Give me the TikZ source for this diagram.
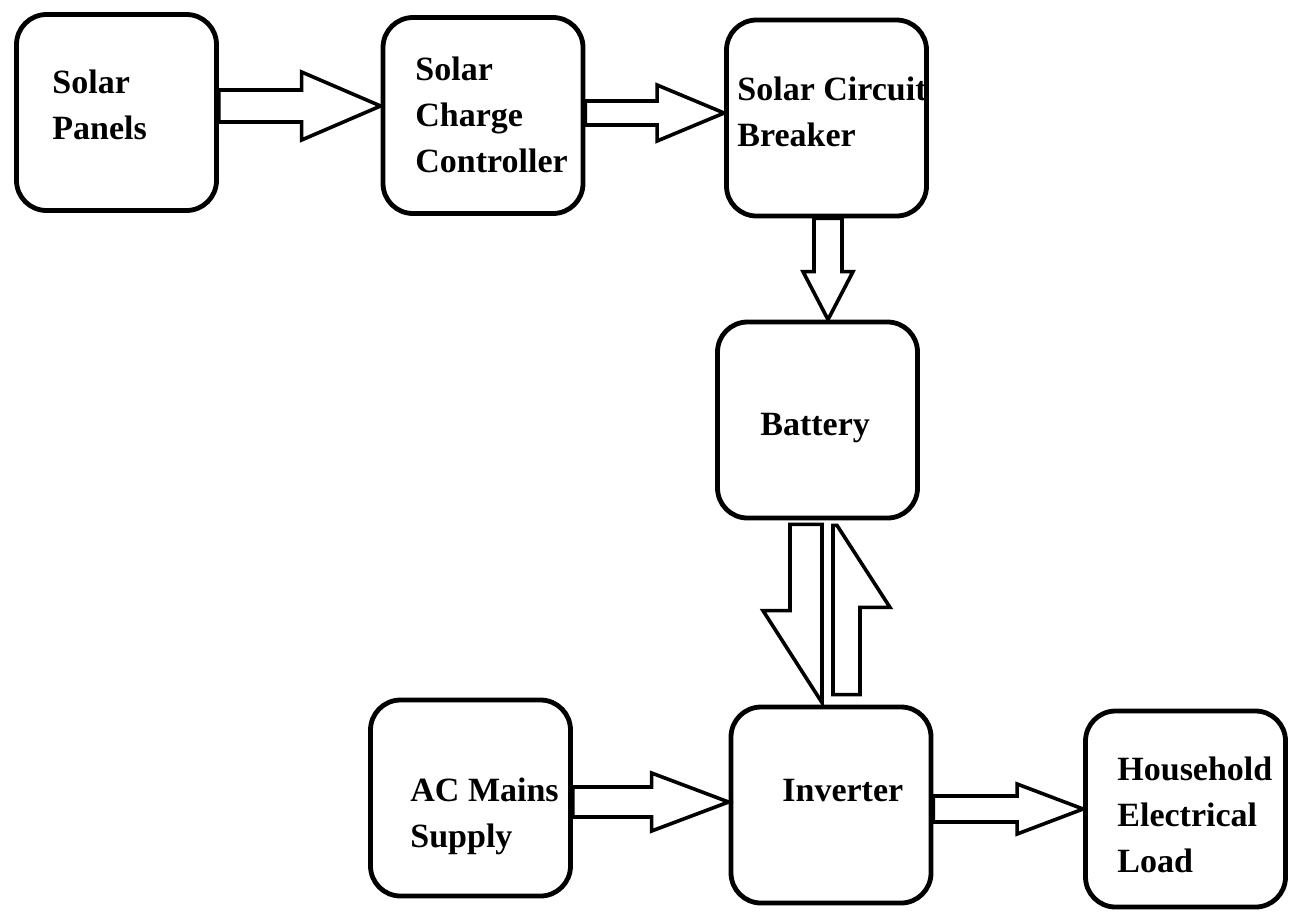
\documentclass[tikz,border=0pt]{standalone}
\usepackage{fontspec}
\setmainfont{Liberation Serif}
\usepackage{tikz}
\usetikzlibrary{calc}

\begin{document}
\begin{tikzpicture}[x=0.5pt, y=-0.5pt,
    blk/.style={draw, line width=2.4pt, rounded corners=15pt,
                minimum width=100pt, minimum height=98pt},
    lbl/.style={font=\bfseries\fontsize{17}{23}\selectfont, align=left,
                inner sep=0pt, anchor=base west},
    barrow/.style={draw, line width=1.8pt, line join=miter, fill=white}]

    \useasboundingbox (0,0) rectangle (1295,911);

    % Blocks
    \node[blk] (pan)  at (116.5,112.5) {};
    \node[blk] (scc)  at (483,115.5)   {};
    \node[blk] (scb)  at (826.5,118)   {};
    \node[blk] (bat)  at (817.5,420)   {};
    \node[blk] (acm)  at (470.5,798)   {};
    \node[blk] (inv)  at (831,805)     {};
    \node[blk] (load) at (1185.5,809)  {};

    % Block texts (anchored at the last baseline)
    \node[lbl] (pan-t)  at (52,139)   {Solar\\Panels};
    \node[lbl] (scc-t)  at (415,172)  {Solar\\Charge\\Controller};
    \node[lbl] (scb-t)  at (737,146)  {Solar Circuit\\Breaker};
    \node[lbl] (bat-t)  at (760,435)  {Battery};
    \node[lbl] (acm-t)  at (410,847)  {AC Mains\\Supply};
    \node[lbl] (inv-t)  at (782,801)  {Inverter};
    \node[lbl] (load-t) at (1117,872) {Household\\Electrical\\Load};

    % Horizontal block arrows: from/to/y/shaft/head/head length
    \foreach \a/\b/\y/\s/\h/\l in {pan/scc/106/16/34/79, scc/scb/113/12/28/67,
                                   acm/inv/802/15/29/77, inv/load/809/13/25/66} {
        \path (\a.east |- 0,\y) coordinate (s0) (\b.west |- 0,\y) coordinate (t0);
        \draw[barrow] ($(s0)+(0,-\s)$) -- ($(t0)+(-\l,-\s)$) -- ($(t0)+(-\l,-\h)$)
            -- (t0) -- ($(t0)+(-\l,\h)$) -- ($(t0)+(-\l,\s)$) -- ($(s0)+(0,\s)$) -- cycle;
    }

    % Breaker to battery
    \path (scb.south -| 828,0) coordinate (s0) (bat.north -| 828,0) coordinate (t0);
    \draw[barrow] ($(s0)+(-14,0)$) -- ($(t0)+(-14,-48)$) -- ($(t0)+(-25,-48)$)
        -- (t0) -- ($(t0)+(25,-48)$) -- ($(t0)+(14,-48)$) -- ($(s0)+(14,0)$) -- cycle;

    % Battery <-> inverter, half heads
    \coordinate (dn-s) at ($(bat.south -| 822,0)+(0,4)$);
    \coordinate (dn-t) at ($(inv.north -| 822,0)+(0,-2)$);
    \draw[barrow] (dn-s) -- ++(-32,0) -- ($(dn-t)+(-32,-92)$) -- ($(dn-t)+(-59,-92)$)
        -- (dn-t) -- cycle;

    \coordinate (up-s) at ($(inv.north -| 833,0)+(0,-10)$);
    \coordinate (up-t) at ($(bat.south -| 833,0)+(0,5)$);
    \draw[barrow] (up-s) -- ++(27,0) -- ($(up-t)+(27,82)$) -- ($(up-t)+(57,82)$)
        -- ($(up-t)+(4,0)$) -- (up-t) -- cycle;

\end{tikzpicture}
\end{document}
